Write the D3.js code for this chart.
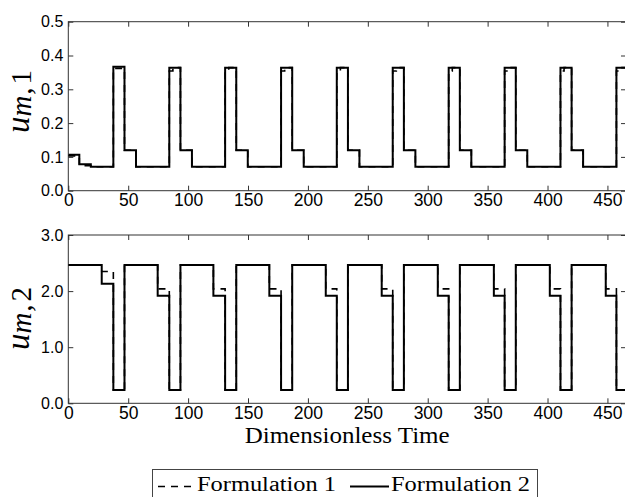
<!DOCTYPE html>
<html>
<head>
<meta charset="utf-8">
<script src="https://cdn.jsdelivr.net/npm/d3@7"></script>
<style>
  html, body { margin: 0; padding: 0; background: #fff; }
  svg { display: block; }
  .tick text { font-family: "Liberation Sans", Arial, sans-serif; fill: #000; }
  .tick line { stroke: #333; }
  .serif { font-family: "Liberation Serif", "DejaVu Serif", serif; }
</style>
</head>
<body>
<svg id="chart" width="625" height="497"></svg>
<script>
// Switching times and control levels for the two formulations (dimensionless time)
const timeEnd = 465.5;

// u_{m,1}: Formulation 1 (dashed)
const tU1F1 = [0, 9.2, 18.8, 37.6, 46.9, 56.5, 84.3, 87.3, 93.6, 103.2, 130.9, 133.9, 140.2, 149.8,
  177.6, 180.6, 186.9, 196.5, 224.1, 227.1, 233.4, 243.0, 270.8, 273.8, 280.1, 289.7,
  317.5, 320.5, 326.8, 336.4, 364.2, 367.2, 373.5, 383.1, 410.8, 413.8, 420.1, 429.7, 457.5, 460.5];
const vU1F1 = [0.103, 0.074, 0.071, 0.362, 0.1195, 0.071, 0.354, 0.364, 0.1195, 0.071, 0.354, 0.364, 0.1195, 0.071,
  0.354, 0.364, 0.1195, 0.071, 0.354, 0.364, 0.1195, 0.071, 0.354, 0.364, 0.1195, 0.071,
  0.354, 0.364, 0.1195, 0.071, 0.354, 0.364, 0.1195, 0.071, 0.354, 0.364, 0.1195, 0.071, 0.354, 0.364];

// u_{m,1}: Formulation 2 (solid)
const tU1F2 = [0, 9.2, 18.8, 37.6, 46.9, 56.5, 84.3, 93.6, 103.2, 130.9, 140.2, 149.8,
  177.6, 186.9, 196.5, 224.1, 233.4, 243.0, 270.8, 280.1, 289.7,
  317.5, 326.8, 336.4, 364.2, 373.5, 383.1, 410.8, 420.1, 429.7, 457.5];
const vU1F2 = [0.1065, 0.078, 0.071, 0.367, 0.1195, 0.071, 0.364, 0.1195, 0.071, 0.364, 0.1195, 0.071,
  0.364, 0.1195, 0.071, 0.364, 0.1195, 0.071, 0.364, 0.1195, 0.071,
  0.364, 0.1195, 0.071, 0.364, 0.1195, 0.071, 0.364, 0.1195, 0.071, 0.364];

// u_{m,2}: switching times shared by both formulations
const tU2 = [0, 27.9, 37.6, 46.9, 74.6, 84.3, 93.6, 121.1, 130.9, 140.2, 167.8, 177.6, 186.9,
  214.9, 224.1, 233.4, 261.6, 270.8, 280.1, 308.4, 317.5, 326.8, 355.2, 364.2, 373.5,
  401.9, 410.8, 420.1, 448.6, 457.5];
const vU2F1 = [2.465, 2.35, 0.237, 2.465, 2.04, 0.237, 2.465, 2.04, 0.237, 2.465, 2.04, 0.237, 2.465,
  2.04, 0.237, 2.465, 2.04, 0.237, 2.465, 2.04, 0.237, 2.465, 2.04, 0.237, 2.465,
  2.04, 0.237, 2.465, 2.04, 0.237];
const vU2F2 = [2.465, 2.13, 0.237, 2.465, 1.918, 0.237, 2.465, 1.918, 0.237, 2.465, 1.918, 0.237, 2.465,
  1.918, 0.237, 2.465, 1.918, 0.237, 2.465, 1.918, 0.237, 2.465, 1.918, 0.237, 2.465,
  1.918, 0.237, 2.465, 1.918, 0.237];

// Tick values
const xTicks = [0, 50, 100, 150, 200, 250, 300, 350, 400, 450];
const yTicksTop = [0, 0.1, 0.2, 0.3, 0.4, 0.5];
const yTicksBottom = [0, 1, 2, 3];
const legendLabels = ["Formulation 1", "Formulation 2"];

const svg = d3.select("#chart");
const left = 68.3, right = 626;
const panels = [
  { top: 21.7, bottom: 190.7, domain: [0, 0.5], ticks: yTicksTop,
    series: [[tU1F1, vU1F1], [tU1F2, vU1F2]], label: "1", cy: 101.5 },
  { top: 235, bottom: 403.3, domain: [0, 3], ticks: yTicksBottom,
    series: [[tU2, vU2F1], [tU2, vU2F2]], label: "2", cy: 318.5 }
];

const x = d3.scaleLinear().domain([0, timeEnd]).range([left, right]);

panels.forEach((p, i) => {
  const y = d3.scaleLinear().domain(p.domain).range([p.bottom, p.top]);
  const g = svg.append("g");

  const clipId = "clip" + i;
  svg.append("clipPath").attr("id", clipId).append("rect")
    .attr("x", left).attr("y", p.top - 2).attr("width", right - left).attr("height", p.bottom - p.top + 4);

  // axes with inward ticks on all four sides
  const ax = [
    g.append("g").attr("transform", `translate(0,${p.bottom})`)
      .call(d3.axisBottom(x).tickValues(xTicks).tickSize(-5).tickPadding(3).tickFormat(d3.format("d"))),
    g.append("g").attr("transform", `translate(0,${p.top})`)
      .call(d3.axisTop(x).tickValues(xTicks).tickSize(-5).tickFormat("")),
    g.append("g").attr("transform", `translate(${left},0)`)
      .call(d3.axisLeft(y).tickValues(p.ticks).tickSize(-5).tickPadding(5).tickFormat(d3.format(".1f"))),
    g.append("g").attr("transform", `translate(${right},0)`)
      .call(d3.axisRight(y).tickValues(p.ticks).tickSize(-5).tickFormat(""))
  ];
  ax.forEach(a => a.select(".domain").remove());
  ax[0].selectAll("text").attr("font-size", 17.5);
  ax[2].selectAll("text").attr("font-size", 16);

  g.append("rect").attr("x", left).attr("y", p.top)
    .attr("width", right - left).attr("height", p.bottom - p.top)
    .attr("fill", "none").attr("stroke", "#333").attr("stroke-width", 1);

  const line = d3.line().curve(d3.curveStepAfter).x(d => x(d[0])).y(d => y(d[1]));
  const plotG = g.append("g").attr("clip-path", `url(#${clipId})`);
  p.series.forEach(([ts, vs], k) => {
    const pts = ts.map((t, j) => [t, vs[j]]);
    pts.push([timeEnd, vs[vs.length - 1]]);
    plotG.append("path").datum(pts).attr("d", line)
      .attr("fill", "none").attr("stroke", "#000")
      .attr("stroke-width", k === 0 ? 1.6 : 2)
      .attr("stroke-dasharray", k === 0 ? "7,6" : null);
  });

  // y label u_{m,k}
  const lab = svg.append("text")
    .attr("class", "serif")
    .attr("transform", `translate(29,${p.cy}) rotate(-90)`)
    .attr("text-anchor", "middle");
  lab.append("tspan").attr("font-style", "italic").attr("font-size", 33).text("u");
  lab.append("tspan").attr("font-style", "italic").attr("font-size", 29).attr("dy", 2).text("m");
  lab.append("tspan").attr("font-size", 29).attr("dx", 1).text(",");
  lab.append("tspan").attr("font-size", 29).attr("dx", 3).text(p.label);
});

// x label
svg.append("text")
  .attr("class", "serif")
  .attr("x", (left + right) / 2).attr("y", 443)
  .attr("text-anchor", "middle")
  .attr("font-size", 23.5)
  .attr("textLength", 205).attr("lengthAdjust", "spacingAndGlyphs")
  .text("Dimensionless Time");

// legend
const lg = svg.append("g");
lg.append("rect").attr("x", 152.5).attr("y", 469.5).attr("width", 385).attr("height", 40)
  .attr("fill", "#fff").attr("stroke", "#444").attr("stroke-width", 1);
const legendItems = [
  { x0: 158, x1: 193, tx: 197, dash: "7,6", w: 1.6 },
  { x0: 350, x1: 389, tx: 391, dash: null, w: 2 }
];
legendItems.forEach((it, i) => {
  lg.append("line").attr("x1", it.x0).attr("x2", it.x1).attr("y1", 486.5).attr("y2", 486.5)
    .attr("stroke", "#000").attr("stroke-width", it.w).attr("stroke-dasharray", it.dash);
  lg.append("text").attr("class", "serif").attr("x", it.tx).attr("y", 491)
    .attr("font-size", 20)
    .attr("textLength", 139).attr("lengthAdjust", "spacingAndGlyphs")
    .text(legendLabels[i]);
});
</script>
</body>
</html>
